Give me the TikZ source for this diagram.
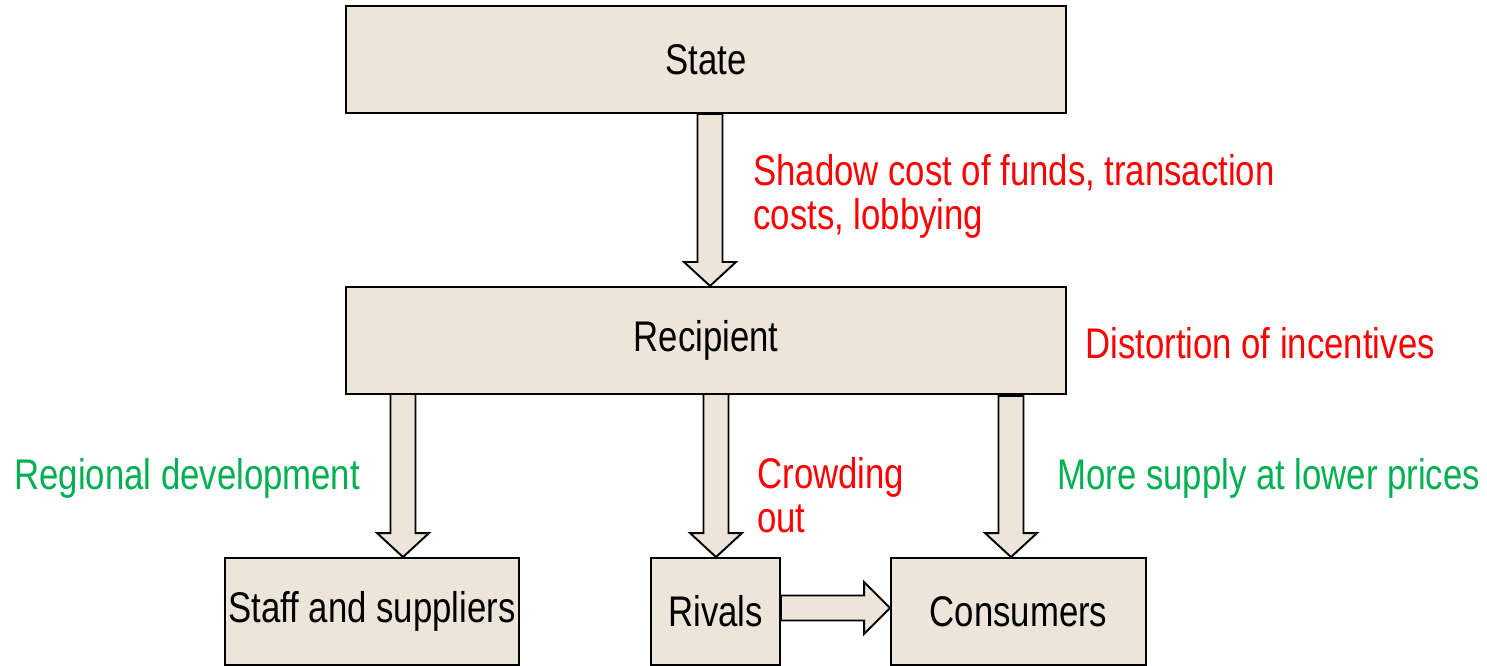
\documentclass[tikz,border=0pt]{standalone}
\usepackage{fontspec}
\setmainfont{Liberation Sans}[FakeStretch=0.81]
\usepackage{xcolor}
\usetikzlibrary{calc,positioning}
\definecolor{boxfill}{RGB}{237,229,218}
\definecolor{gain}{RGB}{0,176,80}
\definecolor{loss}{RGB}{255,0,0}

% block arrows between two points
\newcommand{\fatdown}[2]{%
  \draw[fat] let \p1=(#1), \p2=(#2) in
    (\x1-0.25cm,\y1) -- (\x1-0.25cm,\y2+0.48cm) -- (\x1-0.52cm,\y2+0.48cm)
    -- (\x1,\y2) -- (\x1+0.52cm,\y2+0.48cm) -- (\x1+0.25cm,\y2+0.48cm)
    -- (\x1+0.25cm,\y1) -- cycle;}
\newcommand{\fatright}[2]{%
  \draw[fat] let \p1=(#1), \p2=(#2) in
    (\x1,\y1+0.25cm) -- (\x2-0.52cm,\y1+0.25cm) -- (\x2-0.52cm,\y1+0.52cm)
    -- (\x2,\y1) -- (\x2-0.52cm,\y1-0.52cm) -- (\x2-0.52cm,\y1-0.25cm)
    -- (\x1,\y1-0.25cm) -- cycle;}

\begin{document}
\begin{tikzpicture}[
  box/.style={draw, fill=boxfill, line width=1.1pt, minimum height=2.14cm,
              font=\fontsize{24.4pt}{25pt}\selectfont, inner sep=0pt},
  note/.style={anchor=west, align=left, inner sep=0pt,
              font=\fontsize{24.4pt}{25pt}\selectfont},
  fat/.style={draw, fill=boxfill, line width=1.1pt, line join=miter}
]
\useasboundingbox (0,0) rectangle (29.74,-13.3);

\node[box, minimum width=14.4cm] (state) at (14.12,-1.19) {State};
\node[box, minimum width=14.4cm, below=3.44cm of state] (recipient) {Recipient};
\node[box, minimum width=5.88cm] (staff) at (7.44,-12.23) {Staff and suppliers};
\node[box, minimum width=2.58cm] (rivals) at (14.31,-12.23) {Rivals};
\node[box, minimum width=5.1cm] (consumers) at (20.37,-12.23) {Consumers};

\node[note, text=loss] (shadow) at (15.06,-3.92)
  {Shadow cost of funds, transaction\\costs, lobbying};
\node[note, text=loss] (distortion) at (21.7,-6.86) {Distortion of incentives};
\node[note, text=gain] (regional) at (0.28,-9.56) {Regional development};
\node[note, text=loss] (crowding) at (15.14,-9.9) {Crowding\\out};
\node[note, text=gain] (supply) at (21.14,-9.56) {More supply at lower prices};

\coordinate (s0) at (14.2,0);
\coordinate (a1) at (8.06,-7.88);
\coordinate (a2) at (14.32,-7.88);
\coordinate (a3) at (20.22,-7.92);
\coordinate (r0) at (0,-12.16);

\fatdown{state.south -| s0}{recipient.north -| s0}
\fatdown{a1}{staff.north -| a1}
\fatdown{a2}{rivals.north -| a2}
\fatdown{a3}{consumers.north -| a3}
\fatright{rivals.east |- r0}{consumers.west |- r0}
\end{tikzpicture}
\end{document}
